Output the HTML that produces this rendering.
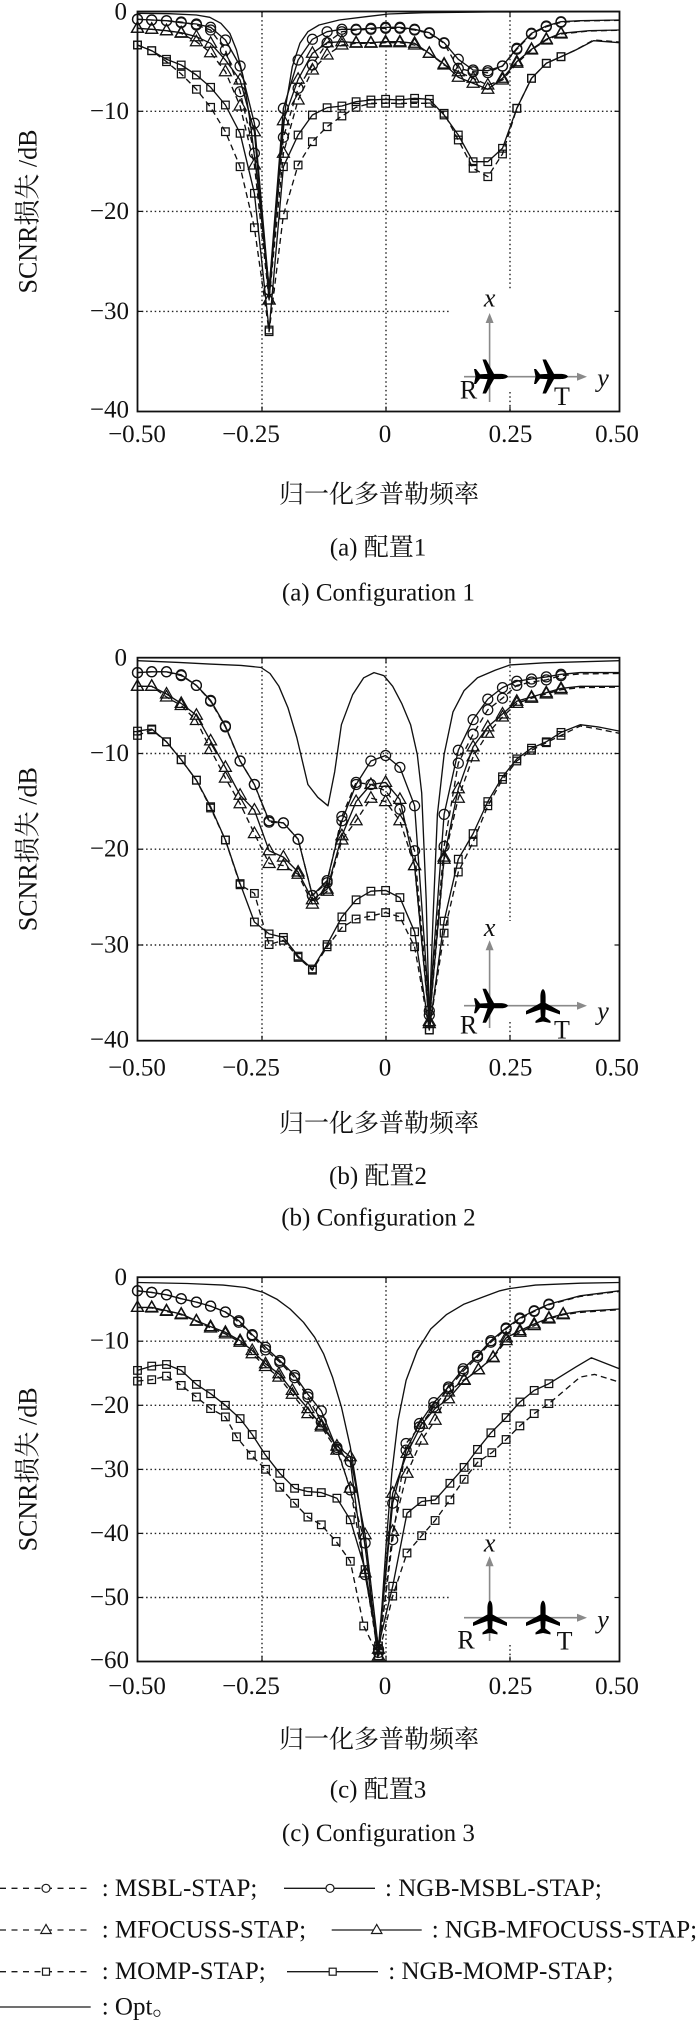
<!DOCTYPE html>
<html><head><meta charset="utf-8">
<style>
html,body{margin:0;padding:0;background:#fff;}
svg{display:block;}
text{font-family:"Liberation Serif","Noto Serif CJK SC",serif;fill:#111;}
.tk{font-size:25px;}
.cap{font-size:25px;}
.yt{font-size:26px;}
.grid{stroke:#222;stroke-width:1.4;stroke-dasharray:1.5,2.8;fill:none;}
.frame{fill:none;stroke:#111;stroke-width:1.8;}
.tick{stroke:#111;stroke-width:1.2;}
.arr{stroke:#8a8a8a;stroke-width:1.6;fill:none;}
.ah{fill:#8a8a8a;}
.it{font-style:italic;font-size:26px;}
.lg{stroke:#1a1a1a;stroke-width:1.3;fill:none;}
</style></head><body>
<svg id="s" width="700" height="2020" viewBox="0 0 700 2020" xmlns="http://www.w3.org/2000/svg">
<defs>
<path id="plane" d="M0,-17 C1.8,-16 2.6,-13 2.6,-9 L2.6,-3 L17,5 L17,8.5 L2.6,3.5 L2.2,11 L7.5,15 L7.5,17 L0,15.5 L-7.5,17 L-7.5,15 L-2.2,11 L-2.6,3.5 L-17,8.5 L-17,5 L-2.6,-3 L-2.6,-9 C-2.6,-13 -1.8,-16 0,-17 Z" fill="#000"/>
</defs>

<!-- ================= PANEL 1 ================= -->
<g>
<line class="grid" x1="137.5" y1="111.3" x2="619.5" y2="111.3"/>
<line class="grid" x1="137.5" y1="211.4" x2="619.5" y2="211.4"/>
<line class="grid" x1="137.5" y1="311.4" x2="451" y2="311.4"/>
<line class="grid" x1="262" y1="11.5" x2="262" y2="411.5"/>
<line class="grid" x1="386" y1="11.5" x2="386" y2="411.5"/>
<line class="grid" x1="510" y1="11.5" x2="510" y2="290"/>
<line class="grid" x1="510" y1="392" x2="510" y2="411.5"/>
<line class="arr" x1="489.6" y1="402" x2="489.6" y2="322"/>
<polygon class="ah" points="489.6,313 485.6,323 493.6,323"/>
<line class="arr" x1="464" y1="376.7" x2="578" y2="376.7"/>
<polygon class="ah" points="587,376.7 577,372.7 577,380.7"/>
<use href="#plane" transform="translate(491,376.5) rotate(90)"/>
<use href="#plane" transform="translate(551,376.5) rotate(90)"/>
<text class="it" x="489.6" y="298" text-anchor="middle" dominant-baseline="central">x</text>
<text class="it" x="603" y="378" text-anchor="middle" dominant-baseline="central">y</text>
<text class="yt" x="468.6" y="390" text-anchor="middle" dominant-baseline="central">R</text>
<text class="yt" x="562" y="396.5" text-anchor="middle" dominant-baseline="central">T</text>
</g>

<!-- ================= PANEL 2 ================= -->
<g>
<line class="grid" x1="137.5" y1="753.5" x2="619.5" y2="753.5"/>
<line class="grid" x1="137.5" y1="849.2" x2="619.5" y2="849.2"/>
<line class="grid" x1="137.5" y1="945" x2="451" y2="945"/>
<line class="grid" x1="262" y1="657.7" x2="262" y2="1040.7"/>
<line class="grid" x1="386" y1="657.7" x2="386" y2="1040.7"/>
<line class="grid" x1="510" y1="657.7" x2="510" y2="921"/>
<line class="grid" x1="510" y1="1022" x2="510" y2="1040.7"/>
<line class="arr" x1="489.6" y1="1028" x2="489.6" y2="949"/>
<polygon class="ah" points="489.6,940.3 485.6,950.3 493.6,950.3"/>
<line class="arr" x1="464" y1="1005.7" x2="578" y2="1005.7"/>
<polygon class="ah" points="587,1005.7 577,1001.7 577,1009.7"/>
<use href="#plane" transform="translate(491,1005.7) rotate(90)"/>
<use href="#plane" transform="translate(543,1006)"/>
<text class="it" x="489.6" y="927.5" text-anchor="middle" dominant-baseline="central">x</text>
<text class="it" x="603" y="1010.8" text-anchor="middle" dominant-baseline="central">y</text>
<text class="yt" x="468.6" y="1024.9" text-anchor="middle" dominant-baseline="central">R</text>
<text class="yt" x="562" y="1030" text-anchor="middle" dominant-baseline="central">T</text>
</g>

<!-- ================= PANEL 3 ================= -->
<g>
<line class="grid" x1="137.5" y1="1341.2" x2="619.5" y2="1341.2"/>
<line class="grid" x1="137.5" y1="1405.3" x2="619.5" y2="1405.3"/>
<line class="grid" x1="137.5" y1="1469.4" x2="619.5" y2="1469.4"/>
<line class="grid" x1="137.5" y1="1533.4" x2="619.5" y2="1533.4"/>
<line class="grid" x1="137.5" y1="1597.5" x2="451" y2="1597.5"/>
<line class="grid" x1="262" y1="1277.2" x2="262" y2="1661.5"/>
<line class="grid" x1="386" y1="1277.2" x2="386" y2="1661.5"/>
<line class="grid" x1="510" y1="1277.2" x2="510" y2="1530"/>
<line class="grid" x1="510" y1="1645" x2="510" y2="1661.5"/>
<line class="arr" x1="489.6" y1="1641" x2="489.6" y2="1565"/>
<polygon class="ah" points="489.6,1556.3 485.6,1566.3 493.6,1566.3"/>
<line class="arr" x1="464" y1="1617.7" x2="578" y2="1617.7"/>
<polygon class="ah" points="587,1617.7 577,1613.7 577,1621.7"/>
<use href="#plane" transform="translate(490,1617.5)"/>
<use href="#plane" transform="translate(543,1617.5)"/>
<text class="it" x="489.6" y="1543" text-anchor="middle" dominant-baseline="central">x</text>
<text class="it" x="603" y="1619.4" text-anchor="middle" dominant-baseline="central">y</text>
<text class="yt" x="466" y="1640" text-anchor="middle" dominant-baseline="central">R</text>
<text class="yt" x="564.6" y="1641" text-anchor="middle" dominant-baseline="central">T</text>
</g>

<g id="curves"></g>

<rect class="frame" x="137.5" y="11.5" width="482" height="400"/>
<rect class="frame" x="137.5" y="657.7" width="482" height="383"/>
<rect class="frame" x="137.5" y="1277.2" width="482" height="384.3"/>
<g class="tick">
<line x1="137.5" y1="111.3" x2="142.5" y2="111.3"/><line x1="614.5" y1="111.3" x2="619.5" y2="111.3"/>
<line x1="137.5" y1="211.4" x2="142.5" y2="211.4"/><line x1="614.5" y1="211.4" x2="619.5" y2="211.4"/>
<line x1="137.5" y1="311.4" x2="142.5" y2="311.4"/><line x1="614.5" y1="311.4" x2="619.5" y2="311.4"/>
<line x1="262" y1="411.5" x2="262" y2="406.5"/><line x1="386" y1="411.5" x2="386" y2="406.5"/><line x1="510" y1="411.5" x2="510" y2="406.5"/>
<line x1="262" y1="11.5" x2="262" y2="16.5"/><line x1="386" y1="11.5" x2="386" y2="16.5"/><line x1="510" y1="11.5" x2="510" y2="16.5"/>

<line x1="137.5" y1="753.5" x2="142.5" y2="753.5"/><line x1="614.5" y1="753.5" x2="619.5" y2="753.5"/>
<line x1="137.5" y1="849.2" x2="142.5" y2="849.2"/><line x1="614.5" y1="849.2" x2="619.5" y2="849.2"/>
<line x1="137.5" y1="945" x2="142.5" y2="945"/><line x1="614.5" y1="945" x2="619.5" y2="945"/>
<line x1="262" y1="1040.7" x2="262" y2="1035.7"/><line x1="386" y1="1040.7" x2="386" y2="1035.7"/><line x1="510" y1="1040.7" x2="510" y2="1035.7"/>
<line x1="262" y1="657.7" x2="262" y2="662.7"/><line x1="386" y1="657.7" x2="386" y2="662.7"/><line x1="510" y1="657.7" x2="510" y2="662.7"/>

<line x1="137.5" y1="1341.2" x2="142.5" y2="1341.2"/><line x1="614.5" y1="1341.2" x2="619.5" y2="1341.2"/>
<line x1="137.5" y1="1405.3" x2="142.5" y2="1405.3"/><line x1="614.5" y1="1405.3" x2="619.5" y2="1405.3"/>
<line x1="137.5" y1="1469.4" x2="142.5" y2="1469.4"/><line x1="614.5" y1="1469.4" x2="619.5" y2="1469.4"/>
<line x1="137.5" y1="1533.4" x2="142.5" y2="1533.4"/><line x1="614.5" y1="1533.4" x2="619.5" y2="1533.4"/>
<line x1="137.5" y1="1597.5" x2="142.5" y2="1597.5"/><line x1="614.5" y1="1597.5" x2="619.5" y2="1597.5"/>
<line x1="262" y1="1661.5" x2="262" y2="1656.5"/><line x1="386" y1="1661.5" x2="386" y2="1656.5"/><line x1="510" y1="1661.5" x2="510" y2="1656.5"/>
<line x1="262" y1="1277.2" x2="262" y2="1282.2"/><line x1="386" y1="1277.2" x2="386" y2="1282.2"/><line x1="510" y1="1277.2" x2="510" y2="1282.2"/>
</g>

<g class="tk" text-anchor="end" dominant-baseline="central">
<text x="127" y="12">0</text>
<text x="129" y="111.3">−10</text>
<text x="129" y="211.4">−20</text>
<text x="129" y="311.4">−30</text>
<text x="129" y="410">−40</text>

<text x="127" y="658">0</text>
<text x="129" y="753.5">−10</text>
<text x="129" y="849.2">−20</text>
<text x="129" y="945">−30</text>
<text x="129" y="1040">−40</text>

<text x="127" y="1277.5">0</text>
<text x="129" y="1341.2">−10</text>
<text x="129" y="1405.3">−20</text>
<text x="129" y="1469.4">−30</text>
<text x="129" y="1533.4">−40</text>
<text x="129" y="1597.5">−50</text>
<text x="129" y="1660.5">−60</text>
</g>

<g class="tk" text-anchor="middle" dominant-baseline="central">
<text x="137" y="434.5">−0.50</text><text x="251" y="434.5">−0.25</text><text x="385" y="434.5">0</text><text x="510.5" y="434.5">0.25</text><text x="617" y="434.5">0.50</text>
<text x="137" y="1068">−0.50</text><text x="251" y="1068">−0.25</text><text x="385" y="1068">0</text><text x="510.5" y="1068">0.25</text><text x="617" y="1068">0.50</text>
<text x="137" y="1686.7">−0.50</text><text x="251" y="1686.7">−0.25</text><text x="385" y="1686.7">0</text><text x="510.5" y="1686.7">0.25</text><text x="617" y="1686.7">0.50</text>
</g>

<g class="yt" text-anchor="middle" dominant-baseline="central">
<text transform="translate(28,211.5) rotate(-90)">SCNR损失 /dB</text>
<text transform="translate(28,849.2) rotate(-90)">SCNR损失 /dB</text>
<text transform="translate(28,1469.4) rotate(-90)">SCNR损失 /dB</text>
</g>

<g class="cap" text-anchor="middle" dominant-baseline="central">
<text x="379" y="495">归一化多普勒频率</text>
<text x="378" y="548">(a) 配置1</text>
<text x="378.4" y="593">(a) Configuration 1</text>
<text x="379" y="1124">归一化多普勒频率</text>
<text x="378" y="1176.7">(b) 配置2</text>
<text x="378.4" y="1218">(b) Configuration 2</text>
<text x="379" y="1740">归一化多普勒频率</text>
<text x="378" y="1790">(c) 配置3</text>
<text x="378.4" y="1833.3">(c) Configuration 3</text>
</g>

<g>
<line class="lg" x1="0" y1="1888.3" x2="88" y2="1888.3" stroke-dasharray="6,5.5"/>
<circle cx="46" cy="1888.3" r="4" fill="#fff" stroke="#1a1a1a" stroke-width="1.2"/>
<line class="lg" x1="284" y1="1888.3" x2="375" y2="1888.3"/>
<circle cx="330" cy="1888.3" r="4" fill="#fff" stroke="#1a1a1a" stroke-width="1.2"/>

<line class="lg" x1="0" y1="1930" x2="88" y2="1930" stroke-dasharray="6,5.5"/>
<polygon points="46,1924.5 40.8,1933.5 51.2,1933.5" fill="#fff" stroke="#1a1a1a" stroke-width="1.2"/>
<line class="lg" x1="331.7" y1="1930" x2="421.7" y2="1930"/>
<polygon points="376.7,1924.5 371.5,1933.5 381.9,1933.5" fill="#fff" stroke="#1a1a1a" stroke-width="1.2"/>

<line class="lg" x1="0" y1="1971.7" x2="88" y2="1971.7" stroke-dasharray="6,5.5"/>
<rect x="42.5" y="1968.2" width="7" height="7" fill="#fff" stroke="#1a1a1a" stroke-width="1.2"/>
<line class="lg" x1="287" y1="1971.7" x2="378" y2="1971.7"/>
<rect x="329.2" y="1968.2" width="7" height="7" fill="#fff" stroke="#1a1a1a" stroke-width="1.2"/>

<line class="lg" x1="0" y1="2007" x2="90.7" y2="2007"/>
</g>
<g class="cap" dominant-baseline="central">
<text x="101.7" y="1888.3">: MSBL-STAP;</text>
<text x="385" y="1888.3">: NGB-MSBL-STAP;</text>
<text x="101.7" y="1930">: MFOCUSS-STAP;</text>
<text x="431.7" y="1930">: NGB-MFOCUSS-STAP;</text>
<text x="101.7" y="1971.7">: MOMP-STAP;</text>
<text x="388.3" y="1971.7">: NGB-MOMP-STAP;</text>
<text x="101.7" y="2007">: Opt。</text>
</g>
</svg>
<script>
(function(){
var NS="http://www.w3.org/2000/svg";
var g=document.getElementById('curves');
function el(tag,a){var e=document.createElementNS(NS,tag);for(var k in a)e.setAttribute(k,a[k]);g.appendChild(e);return e;}
var PAN=[{sx:2.2407,sy:3,oy:0},{sx:2.2407,sy:2.342,oy:430.1},{sx:2.2407,sy:3.013,oy:1241}];
var SW=1.35;
function mk(t,x,y){
  var st={fill:'none',stroke:'#111','stroke-width':1.25};
  var a,k;
  if(t==='o'){a={cx:x.toFixed(1),cy:y.toFixed(1),r:5};for(k in st)a[k]=st[k];el('circle',a);}
  else if(t==='^'){a={points:x.toFixed(1)+','+(y-6.5).toFixed(1)+' '+(x-6).toFixed(1)+','+(y+4).toFixed(1)+' '+(x+6).toFixed(1)+','+(y+4).toFixed(1)};for(k in st)a[k]=st[k];el('polygon',a);}
  else if(t==='s'){a={x:(x-3.8).toFixed(1),y:(y-3.8).toFixed(1),width:7.6,height:7.6};for(k in st)a[k]=st[k];el('rect',a);}
}
function draw(pi,pts,tail,dash,m){
  var p=PAN[pi];
  var all=pts.concat(tail||[]);
  var s=all.map(function(q){return (q[0]/p.sx).toFixed(1)+','+(q[1]/p.sy+p.oy).toFixed(1);}).join(' ');
  var a={points:s,fill:'none',stroke:'#111','stroke-width':SW,'stroke-linejoin':'round'};
  if(dash)a['stroke-dasharray']='6,4';
  el('polyline',a);
  if(m)pts.forEach(function(q){mk(m,q[0]/p.sx,q[1]/p.sy+p.oy);});
}
/* Panel 1 */
draw(0,[[308,40],[380,41],[440,45],[470,52],[495,70],[515,100],[530,150],[545,230],[560,360],[575,520],[590,700],[603,860],[615,700],[628,480],[640,320],[655,200],[672,130],[690,95],[715,75],[760,60],[820,50],[870,42],[950,38],[1100,36],[1388,35]],null,false,null);
draw(0,[[308,58],[340,60],[373,62],[406,66],[440,75],[472,90],[505,150],[538,275],[570,460],[603,870],[635,412],[668,265],[700,195],[733,128],[766,95],[798,90],[831,88],[864,85],[896,85],[929,90],[962,100],[995,130],[1027,205],[1060,215],[1093,218],[1126,198],[1158,148],[1191,102],[1224,80],[1257,67]],[[1300,63],[1388,61]],true,'o');
draw(0,[[308,58],[340,60],[373,62],[406,68],[440,72],[472,82],[505,120],[538,198],[570,370],[603,870],[635,325],[668,180],[700,118],[733,95],[766,88],[798,88],[831,85],[864,82],[896,82],[929,88],[962,98],[995,128],[1027,178],[1060,210],[1093,212],[1126,198],[1158,145],[1191,100],[1224,78],[1257,65]],[[1300,62],[1388,60]],false,'o');
draw(0,[[308,85],[340,88],[373,92],[406,100],[440,125],[472,158],[505,215],[538,318],[570,495],[603,900],[635,460],[668,300],[700,210],[733,165],[766,135],[798,130],[831,130],[864,128],[896,128],[929,135],[962,160],[995,195],[1027,215],[1060,235],[1093,255],[1126,240],[1158,190],[1191,150],[1224,120],[1257,102]],[[1320,93],[1388,91]],true,'^');
draw(0,[[308,85],[340,88],[373,92],[406,98],[440,110],[472,130],[505,180],[538,240],[570,395],[603,900],[635,362],[668,238],[700,160],[733,128],[766,125],[798,128],[831,128],[864,125],[896,125],[929,130],[962,160],[995,192],[1027,232],[1060,250],[1093,268],[1126,235],[1158,185],[1191,148],[1224,118],[1257,100]],[[1320,92],[1388,90]],false,'^');
draw(0,[[308,135],[340,152],[373,185],[406,222],[440,268],[472,322],[505,395],[538,500],[570,683],[603,995],[635,645],[668,495],[700,425],[733,380],[766,348],[798,322],[831,310],[864,310],[896,310],[929,310],[962,310],[995,340],[1027,420],[1060,505],[1093,530],[1126,462],[1158,325],[1191,235],[1224,190],[1257,170]],[[1290,150],[1330,120],[1388,126]],true,'s');
draw(0,[[308,135],[340,152],[373,178],[406,195],[440,225],[472,262],[505,315],[538,400],[570,580],[603,990],[635,500],[668,405],[700,345],[733,323],[766,318],[798,305],[831,300],[864,298],[896,300],[929,295],[962,298],[995,345],[1027,405],[1060,485],[1093,485],[1126,445],[1158,325],[1191,235],[1224,190],[1257,170]],[[1290,150],[1330,122],[1388,128]],false,'s');
/* Panel 2 */
draw(1,[[308,540],[400,544],[470,548],[540,551],[585,556],[605,570],[625,600],[645,650],[665,720],[690,830],[712,860],[735,880],[750,800],[765,690],[790,620],[815,580],[838,568],[860,575],[880,600],[900,640],[920,690],[935,760],[945,850],[955,1100],[962,1380],[970,1150],[980,900],[995,760],[1015,660],[1040,610],[1070,580],[1110,562],[1143,550],[1220,545],[1388,540]],null,false,null);
draw(1,[[308,568],[340,566],[373,566],[406,575],[440,598],[472,635],[505,695],[538,775],[570,830],[603,918],[635,920],[668,958],[700,1090],[733,1060],[766,905],[798,825],[831,830],[864,845],[896,888],[929,985],[962,1370],[995,975],[1027,780],[1060,712],[1093,655],[1126,628],[1158,598],[1191,590],[1224,585],[1257,575]],[[1300,571],[1388,570]],true,'o');
draw(1,[[308,568],[340,566],[373,566],[406,573],[440,598],[472,633],[505,693],[538,775],[570,830],[603,915],[635,920],[668,958],[700,1090],[733,1055],[766,915],[798,830],[831,775],[864,762],[896,790],[929,880],[962,1360],[995,900],[1027,750],[1060,678],[1093,630],[1126,603],[1158,588],[1191,583],[1224,578],[1257,572]],[[1300,568],[1388,568]],false,'o');
draw(1,[[308,600],[340,600],[373,625],[406,645],[440,680],[472,748],[505,815],[538,875],[570,945],[603,1015],[635,1020],[668,1040],[700,1110],[733,1080],[766,960],[798,915],[831,862],[864,870],[896,915],[929,1020],[962,1390],[995,1005],[1027,862],[1060,765],[1093,710],[1126,672],[1158,640],[1191,628],[1224,618],[1257,608]],[[1300,603],[1388,602]],true,'^');
draw(1,[[308,600],[340,600],[373,618],[406,640],[440,668],[472,728],[505,790],[538,855],[570,890],[603,985],[635,1000],[668,1035],[700,1100],[733,1075],[766,950],[798,870],[831,830],[864,825],[896,865],[929,1020],[962,1385],[995,1000],[1027,840],[1060,742],[1093,695],[1126,665],[1158,635],[1191,625],[1224,615],[1257,605]],[[1300,600],[1388,600]],false,'^');
draw(1,[[308,715],[340,702],[373,730],[406,772],[440,820],[472,885],[505,960],[538,1065],[570,1085],[603,1205],[635,1195],[668,1235],[700,1265],[733,1210],[766,1165],[798,1145],[831,1138],[864,1130],[896,1140],[929,1210],[962,1405],[995,1178],[1027,1035],[1060,965],[1093,880],[1126,818],[1158,775],[1191,750],[1224,732],[1257,715]],[[1300,693],[1340,700],[1388,710]],true,'s');
draw(1,[[308,705],[340,700],[373,730],[406,772],[440,820],[472,882],[505,960],[538,1062],[570,1152],[603,1180],[635,1188],[668,1232],[700,1262],[733,1205],[766,1140],[798,1100],[831,1080],[864,1078],[896,1095],[929,1175],[962,1405],[995,1150],[1027,1005],[1060,945],[1093,870],[1126,812],[1158,770],[1191,745],[1224,730],[1257,708]],[[1300,690],[1340,695],[1388,705]],false,'s');
/* Panel 3 */
draw(2,[[308,125],[420,128],[500,133],[550,140],[590,155],[620,175],[650,205],[680,245],[705,290],[725,340],[745,410],[765,500],[785,620],[805,790],[822,960],[835,1120],[846,1255],[856,1100],[866,900],[878,700],[892,540],[910,420],[935,330],[965,265],[1000,222],[1040,190],[1080,170],[1120,150],[1143,143],[1200,133],[1300,127],[1388,125]],null,false,null);
draw(2,[[308,150],[340,155],[373,162],[406,174],[440,184],[472,196],[505,214],[535,245],[565,285],[595,328],[627,365],[660,412],[690,470],[720,545],[755,622],[785,750],[818,910],[848,1240],[880,900],[910,610],[940,560],[972,500],[1005,445],[1038,392],[1070,350],[1100,305],[1134,265],[1165,235],[1197,212],[1230,192]],[[1300,167],[1388,152]],true,'o');
draw(2,[[308,150],[340,155],[373,162],[406,174],[440,184],[472,196],[505,214],[535,240],[565,282],[595,320],[627,360],[660,405],[690,462],[720,512],[755,628],[785,665],[818,1005],[848,1230],[880,790],[910,630],[940,550],[972,487],[1005,440],[1038,385],[1070,345],[1100,300],[1134,262],[1165,232],[1197,210],[1230,190]],[[1300,165],[1388,150]],false,'o');
draw(2,[[308,200],[340,202],[373,212],[406,222],[440,242],[472,262],[505,280],[538,305],[565,340],[595,378],[625,410],[655,462],[690,520],[720,560],[755,630],[785,745],[818,1000],[848,1250],[880,875],[912,700],[945,600],[975,540],[1005,455],[1040,418],[1072,388],[1105,352],[1134,300],[1165,275],[1197,255],[1230,235],[1262,222]],[[1300,215],[1388,207]],true,'^');
draw(2,[[308,200],[340,200],[373,210],[406,220],[440,240],[472,258],[505,275],[538,300],[565,330],[595,370],[625,400],[655,450],[690,505],[720,555],[755,618],[785,650],[818,885],[848,1230],[880,760],[912,640],[945,552],[975,505],[1005,475],[1040,420],[1072,388],[1105,350],[1134,292],[1165,270],[1197,250],[1230,232],[1262,220]],[[1300,212],[1388,205]],false,'^');
draw(2,[[308,422],[340,418],[373,407],[406,435],[440,470],[472,505],[505,530],[530,590],[563,645],[595,688],[627,742],[660,790],[690,832],[720,855],[753,905],[785,965],[815,1160],[848,1250],[880,1070],[912,940],[945,888],[975,842],[1008,780],[1040,718],[1070,667],[1102,638],[1134,598],[1165,557],[1197,520],[1230,490]],[[1300,410],[1332,402],[1388,425]],true,'s');
draw(2,[[308,390],[340,377],[373,372],[406,390],[440,432],[472,460],[505,495],[538,535],[565,583],[595,645],[627,700],[660,745],[690,755],[720,758],[755,775],[785,840],[818,990],[848,1220],[880,1040],[912,820],[945,785],[975,780],[1008,730],[1040,682],[1070,628],[1100,578],[1134,532],[1165,485],[1197,450],[1230,430]],[[1290,380],[1325,352],[1388,385]],false,'s');
})();
</script>
</body></html>
